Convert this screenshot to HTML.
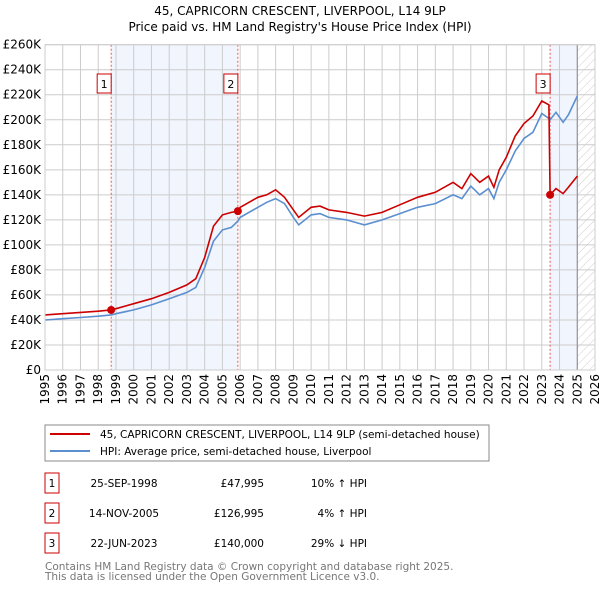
<!DOCTYPE html>
<html><head><meta charset="utf-8"><style>
body{margin:0;background:#fff;font-family:"DejaVu Sans","Liberation Sans",sans-serif;}
svg text{font-family:"DejaVu Sans","Liberation Sans",sans-serif;}
</style></head><body>
<svg id="c" width="600" height="590" xmlns="http://www.w3.org/2000/svg">
<defs><pattern id="hatch" width="6" height="6" patternUnits="userSpaceOnUse" patternTransform="rotate(45)"><line x1="0" y1="0" x2="0" y2="6" stroke="#ccc" stroke-width="1"/></pattern></defs>
<text x="300" y="15" text-anchor="middle" font-size="12">45, CAPRICORN CRESCENT, LIVERPOOL, L14 9LP</text>
<text x="300" y="31" text-anchor="middle" font-size="12">Price paid vs. HM Land Registry's House Price Index (HPI)</text>
<g id="plot"></g>
<rect x="45" y="425" width="444" height="36" fill="#fff" stroke="#888"/>
<line x1="50" y1="434" x2="90" y2="434" stroke="#cc0000" stroke-width="2"/>
<text x="100" y="438" font-size="10.5">45, CAPRICORN CRESCENT, LIVERPOOL, L14 9LP (semi-detached house)</text>
<line x1="50" y1="451" x2="90" y2="451" stroke="#5b8fd0" stroke-width="2"/>
<text x="100" y="455" font-size="10.5">HPI: Average price, semi-detached house, Liverpool</text>
<g id="tbl" font-size="10.5"></g>
<text x="45" y="570" font-size="10.5" fill="#777">Contains HM Land Registry data © Crown copyright and database right 2025.</text>
<text x="45" y="580" font-size="10.5" fill="#777">This data is licensed under the Open Government Licence v3.0.</text>
</svg>
<script>
const times=[1995,1996,1997,1998,1998.73,1999,2000,2001,2002,2003,2003.5,2004,2004.5,2005,2005.5,2005.87,2006,2007,2007.5,2008,2008.5,2009,2009.3,2010,2010.5,2011,2012,2013,2014,2015,2016,2017,2018,2018.5,2019,2019.5,2020,2020.3,2020.6,2021,2021.5,2022,2022.5,2023,2023.4,2023.47,2023.8,2024.2,2024.5,2025];
const hpi=[40,41,42,43,44,45,48,52,57,62,66,82,103,112,114,119,122,130,134,137,133,122,116,124,125,122,120,116,120,125,130,133,140,137,147,140,145,137,150,160,175,185,190,205,201,200,206,198,204,219];
const red=[44,45,46,47,48,49,53,57,62,68,73,90,115,124,126,127,130,138,140,144,138,128,122,130,131,128,126,123,126,132,138,142,150,145,157,150,155,146,160,170,187,197,203,215,212,140,145,141,146,155];
const saleT=[1998.73,2005.87,2023.47];
const saleV=[47.995,126.995,140];
const saleLbl=["1","2","3"];
const saleDates=["25-SEP-1998","14-NOV-2005","22-JUN-2023"];
const salePrices=["£47,995","£126,995","£140,000"];
const salePct=["10% ↑ HPI","4% ↑ HPI","29% ↓ HPI"];
const yTicks=[0,20,40,60,80,100,120,140,160,180,200,220,240,260];
const xTicks=[1995,1996,1997,1998,1999,2000,2001,2002,2003,2004,2005,2006,2007,2008,2009,2010,2011,2012,2013,2014,2015,2016,2017,2018,2019,2020,2021,2022,2023,2024,2025,2026];
const X0=45,X1=595,Y0=370,Y1=44.7;
const sx=t=>X0+(t-1995)/(2026-1995)*(X1-X0);
const sy=v=>Y0-v/260*(Y0-Y1);
const NS="http://www.w3.org/2000/svg";
const g=document.getElementById('plot');
function mk(tag,attrs,parent){const e=document.createElementNS(NS,tag);for(const k in attrs)e.setAttribute(k,attrs[k]);(parent||g).appendChild(e);return e;}
let r=mk('rect',{x:sx(saleT[0]),y:Y1,width:sx(saleT[1])-sx(saleT[0]),height:Y0-Y1,fill:'#eef3fc',opacity:0.8});


r=mk('rect',{x:sx(saleT[2]),y:Y1,width:sx(2025)-sx(saleT[2]),height:Y0-Y1,fill:'#eef3fc',opacity:0.8});


r=mk('rect',{x:sx(2025),y:Y1,width:X1-sx(2025),height:Y0-Y1,fill:'url(#hatch)'});


yTicks.forEach(v=>{
 const l=mk('line',{x1:X0,x2:X1,y1:sy(v),y2:sy(v),stroke:'#ccc'});
 
 
 const t=mk('text',{x:X0-4,y:sy(v)+4,'text-anchor':'end','font-size':12});
 
 
 t.textContent=v===0?'£0':'£'+v+'K';
});
xTicks.forEach(y=>{
 const l=mk('line',{x1:sx(y),x2:sx(y),y1:Y1,y2:Y0,stroke:'#ccc'});
 
 
 const t=mk('text',{x:0,y:0,'text-anchor':'end','font-size':12,transform:`translate(${sx(y)+4},${Y0+4}) rotate(-90)`});
 
 
 t.textContent=y;
});
let l=mk('line',{x1:sx(2025),x2:sx(2025),y1:Y1,y2:Y0,stroke:'#888'});


saleT.forEach((t,i)=>{
 const d=mk('line',{x1:sx(t),x2:sx(t),y1:Y1,y2:Y0,stroke:'#e55',  'stroke-dasharray':'2,2'});
 
 
 const b=mk('rect',{x:sx(t)-14,y:74,width:14,height:19,fill:'#fff',stroke:'#c00'});
 
 
 const tx=mk('text',{x:sx(t)-7,y:88,'text-anchor':'middle','font-size':11});
 
 
 tx.textContent=saleLbl[i];
});
const path=a=>a.map((v,i)=>(i?'L':'M')+sx(times[i]).toFixed(1)+','+sy(v).toFixed(1)).join('');
let p=mk('path',{d:path(hpi),fill:'none',stroke:'#5b8fd0','stroke-width':1.6});


p=mk('path',{d:path(red),fill:'none',stroke:'#cc0000','stroke-width':1.6});


saleT.forEach((t,i)=>{
 const c=mk('circle',{cx:sx(t),cy:sy(saleV[i]),r:4,fill:'#cc0000'});
 
 
});
let bd=mk('rect',{x:X0,y:Y1,width:X1-X0,height:Y0-Y1,fill:'none',stroke:'#ccc'});


const tb=document.getElementById('tbl');
const rowsY=[483,513,543];
saleLbl.forEach((s,i)=>{
 const y=rowsY[i];
 const b=mk('rect',{x:45,y:y-10,width:14,height:20,fill:'#fff',stroke:'#c00'},tb);
 
 
 const cells=[[52,'middle',s],[124,'middle',saleDates[i]],[264,'end',salePrices[i]],[367,'end',salePct[i]]];
 cells.forEach(c=>{
  const t=mk('text',{x:c[0],y:y+4,'text-anchor':c[1]},tb);
  
  
  t.textContent=c[2];
 });
});
</script>
</body></html>
